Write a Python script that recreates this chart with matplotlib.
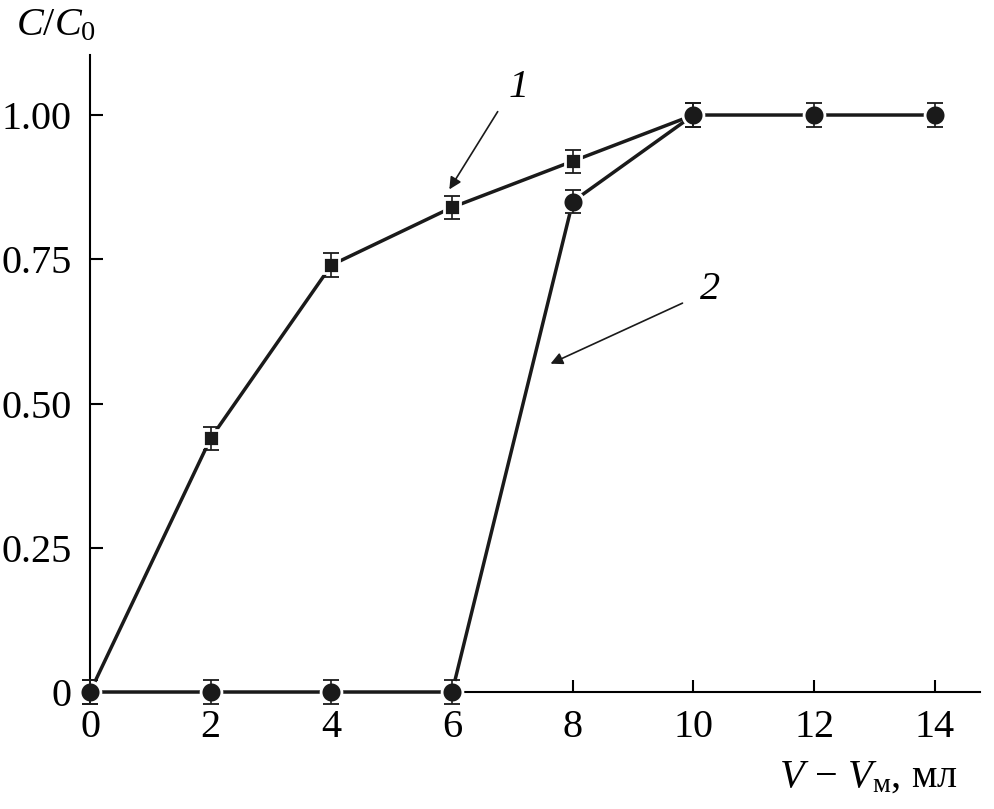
import numpy as np
import matplotlib
matplotlib.use("Agg")
import matplotlib.pyplot as plt

plt.rcParams['font.family'] = ['Liberation Serif', 'DejaVu Serif']
plt.rcParams['mathtext.fontset'] = 'custom'
plt.rcParams['mathtext.rm'] = 'Liberation Serif'
plt.rcParams['mathtext.it'] = 'Liberation Serif:italic'

# кривая 1 (квадраты)
x1 = [0, 2, 4, 6, 8, 10]
y1 = [0, 0.44, 0.74, 0.84, 0.92, 1.00]
# кривая 2 (круги)
x2 = [0, 2, 4, 6, 8, 10, 12, 14]
y2 = [0, 0, 0, 0, 0.85, 1.00, 1.00, 1.00]
err = 0.02

xticks = [0, 2, 4, 6, 8, 10, 12, 14]
yticks = [0, 0.25, 0.50, 0.75, 1.00]
ylabels = ['0', '0.25', '0.50', '0.75', '1.00']

fig = plt.figure(figsize=(9.95, 8.09), dpi=100)
ax = fig.add_axes([0.0905, 0.1446, 0.8945, 0.7874])

col = '#1a1a1a'
ax.plot(x1, y1, '-s', color=col, lw=2.5, ms=12, mec='white', mew=2, clip_on=False, zorder=3)
ax.plot(x2, y2, '-o', color=col, lw=2.5, ms=15, mec='white', mew=2, clip_on=False, zorder=4)
ax.errorbar(x1, y1, yerr=err, fmt='none', ecolor=col, elinewidth=1.2, capsize=5.5,
            capthick=1.3, clip_on=False, zorder=5)
ax.errorbar(x2, y2, yerr=err, fmt='none', ecolor=col, elinewidth=1.2, capsize=5.5,
            capthick=1.3, clip_on=False, zorder=5)

ax.set_xlim(0, 14.75)
ax.set_ylim(0, 1.104)
ax.set_xticks(xticks)
ax.set_yticks(yticks)
ax.set_yticklabels(ylabels)
for s in ['top', 'right']:
    ax.spines[s].set_visible(False)
for s in ['left', 'bottom']:
    ax.spines[s].set_linewidth(1.5)
ax.tick_params(direction='in', length=9, width=1.5, labelsize=29)
ax.tick_params(axis='y', pad=13)
ax.tick_params(axis='x', pad=12)

fig.text(0.056, 0.968, r'$C/C_\mathrm{0}$', fontsize=29, ha='center', va='center')
fig.text(0.962, 0.0396, r'$V\,-\,V_\mathrm{м}$, мл', fontsize=29, ha='right', va='center')

ax.annotate('', xy=(5.93, 0.867), xytext=(6.78, 1.010),
            arrowprops=dict(arrowstyle='-|>', color=col, lw=1.2, mutation_scale=18))
ax.text(7.11, 1.047, '1', fontsize=29, style='italic', ha='center', va='center')
ax.annotate('', xy=(7.59, 0.567), xytext=(9.86, 0.676),
            arrowprops=dict(arrowstyle='-|>', color=col, lw=1.2, mutation_scale=18))
ax.text(10.27, 0.697, '2', fontsize=29, style='italic', ha='center', va='center')

fig.savefig('out.png', dpi=100)
